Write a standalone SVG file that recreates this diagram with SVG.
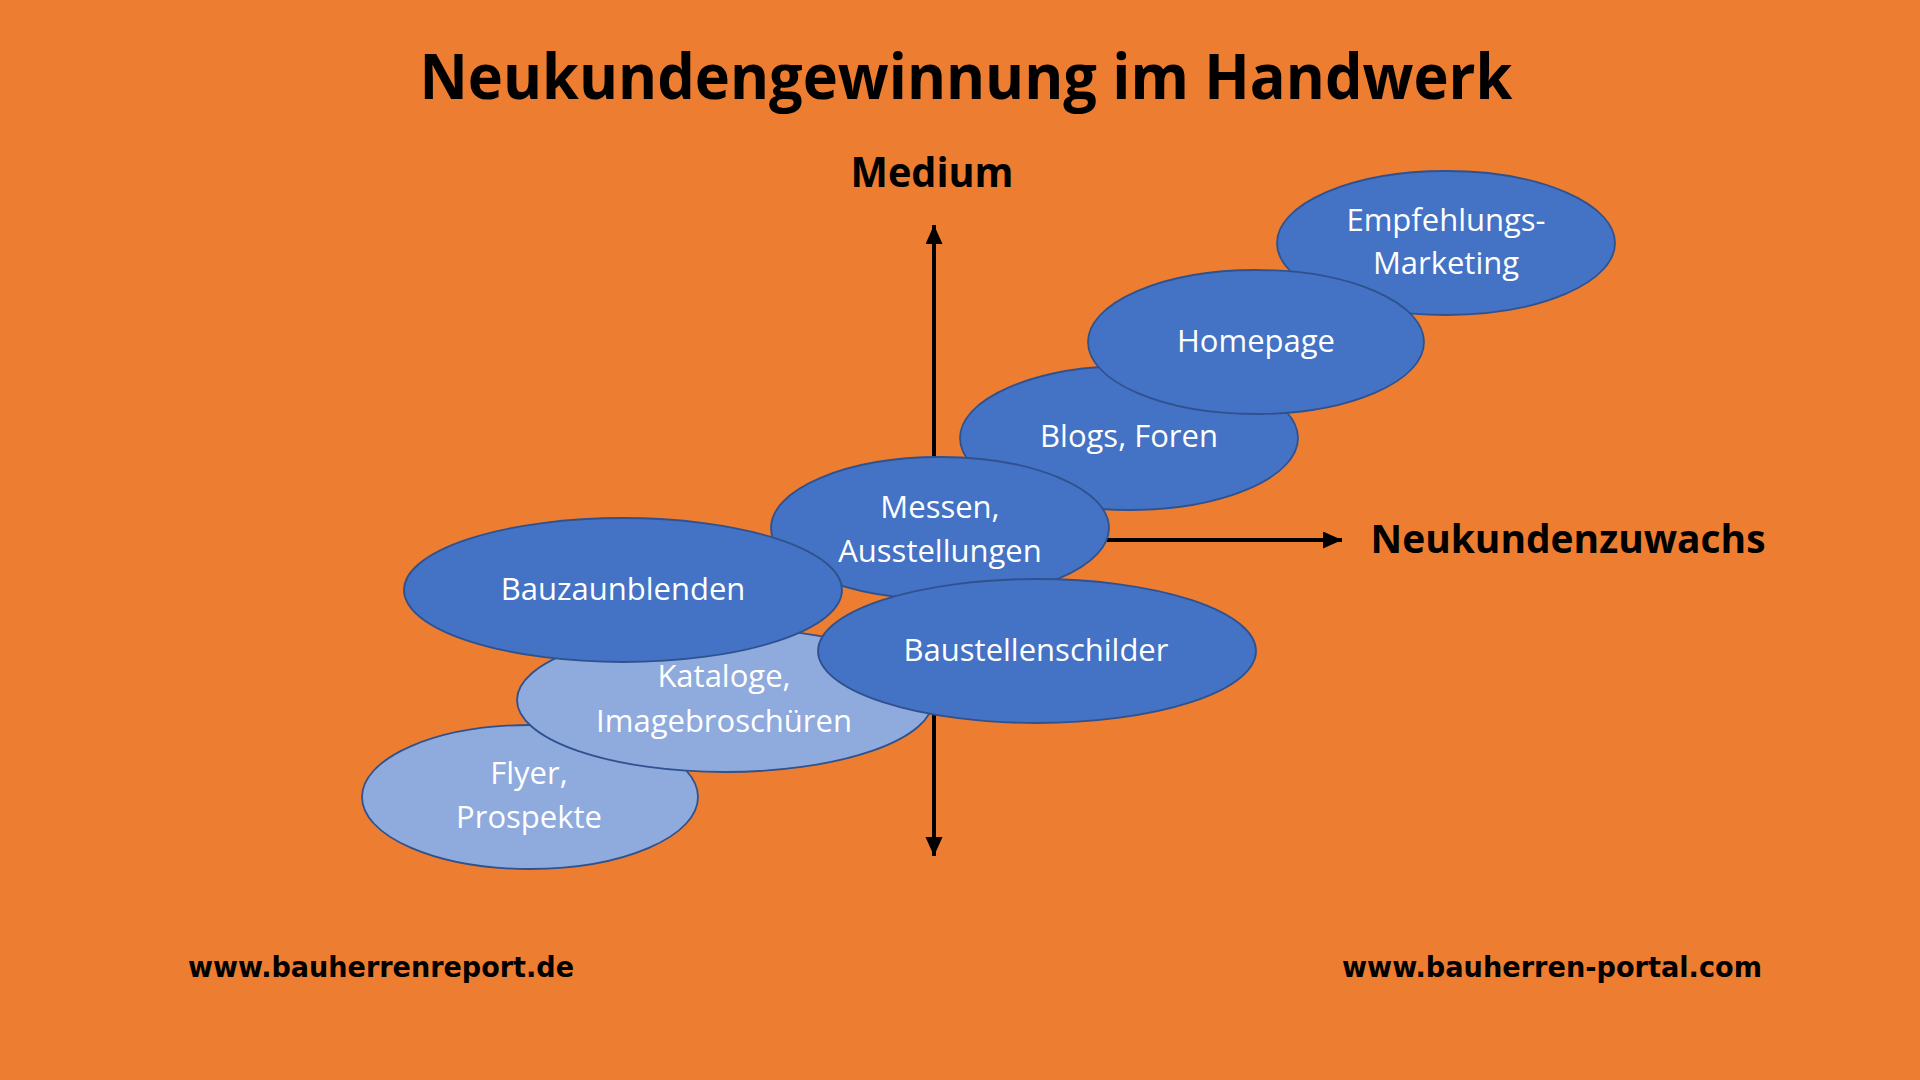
<svg xmlns="http://www.w3.org/2000/svg" width="1920" height="1080" viewBox="0 0 1920 1080">
<defs>
<style>
.bg{fill:#ED7D31}
.n{stroke:#2F528F;stroke-width:1.8}
.dark{fill:#4472C4}
.light{fill:#8FAADC}
.t{font-family:"Open Sans","Liberation Sans",sans-serif;font-size:31px;fill:#FFFFFF;text-anchor:middle}
.h{font-family:"Open Sans","Liberation Sans",sans-serif;font-weight:bold;fill:#000000}
.f{font-family:"DejaVu Sans","Liberation Sans",sans-serif;font-weight:bold;font-size:29px;fill:#000000}
.ax{stroke:#000000;stroke-width:4;fill:none}
</style>
<marker id="arr" markerUnits="userSpaceOnUse" markerWidth="20" markerHeight="18" refX="19" refY="8.5" orient="auto-start-reverse" viewBox="0 0 20 18">
<path d="M0,0 L19,8.5 L0,17 z" fill="#000000"/>
</marker>
</defs>
<rect class="bg" x="0" y="0" width="1920" height="1080"/>
<text class="h" x="966" y="99" font-size="63" text-anchor="middle" textLength="1093" lengthAdjust="spacingAndGlyphs">Neukundengewinnung im Handwerk</text>
<text class="h" x="932" y="187" font-size="41" text-anchor="middle" textLength="163" lengthAdjust="spacingAndGlyphs">Medium</text>
<text class="h" x="1568" y="553" font-size="39" text-anchor="middle" textLength="395" lengthAdjust="spacingAndGlyphs">Neukundenzuwachs</text>
<g id="connectors">
<line class="ax" x1="934" y1="856" x2="934" y2="225" marker-start="url(#arr)" marker-end="url(#arr)"/>
<line class="ax" x1="934" y1="540" x2="1342" y2="540" marker-end="url(#arr)"/>
</g>
<g id="node-empfehlung">
<ellipse class="n dark" cx="1446" cy="243" rx="169" ry="72"/>
<text class="t" x="1446" y="231">Empfehlungs-</text>
<text class="t" x="1446" y="274">Marketing</text>
</g>
<g id="node-blogs">
<ellipse class="n dark" cx="1129" cy="438" rx="169" ry="72"/>
<text class="t" x="1129" y="447">Blogs, Foren</text>
</g>
<g id="node-homepage">
<ellipse class="n dark" cx="1256" cy="342" rx="168" ry="72"/>
<text class="t" x="1256" y="352">Homepage</text>
</g>
<g id="node-messen">
<ellipse class="n dark" cx="940" cy="528" rx="169" ry="71"/>
<text class="t" x="940" y="518">Messen,</text>
<text class="t" x="940" y="562">Ausstellungen</text>
</g>
<g id="node-flyer">
<ellipse class="n light" cx="530" cy="797" rx="168" ry="72"/>
<text class="t" x="529" y="784">Flyer,</text>
<text class="t" x="529" y="828">Prospekte</text>
</g>
<g id="node-kataloge">
<ellipse class="n light" cx="725" cy="700" rx="208" ry="72"/>
<text class="t" x="724" y="687">Kataloge,</text>
<text class="t" x="724" y="732">Imagebroschüren</text>
</g>
<g id="node-bauzaun">
<ellipse class="n dark" cx="623" cy="590" rx="219" ry="72"/>
<text class="t" x="623" y="600">Bauzaunblenden</text>
</g>
<g id="node-baustellen">
<ellipse class="n dark" cx="1037" cy="651" rx="219" ry="72"/>
<text class="t" x="1036" y="661">Baustellenschilder</text>
</g>
<text class="f" x="188" y="977" textLength="386" lengthAdjust="spacingAndGlyphs">www.bauherrenreport.de</text>
<text class="f" x="1342" y="977" textLength="420" lengthAdjust="spacingAndGlyphs">www.bauherren-portal.com</text>
</svg>
